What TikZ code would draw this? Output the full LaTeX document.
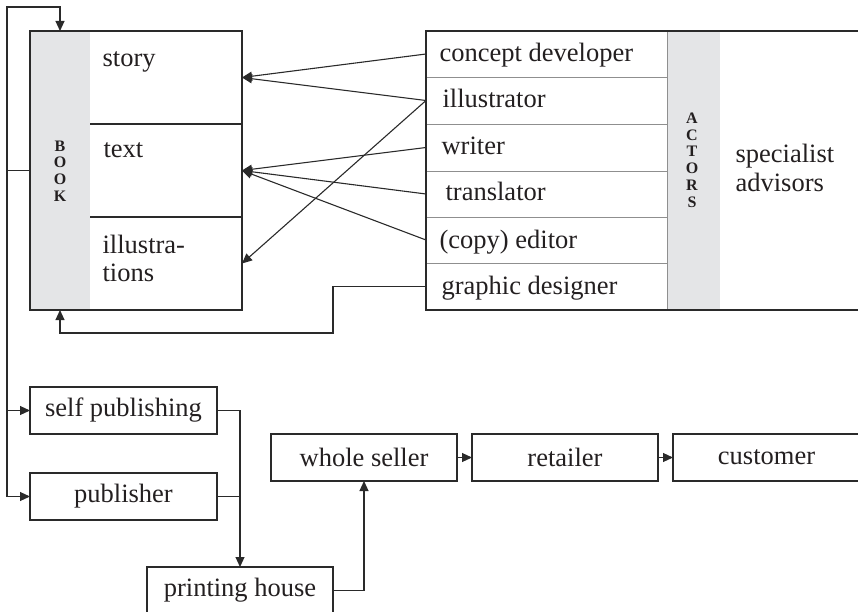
\documentclass[tikz,border=0pt]{standalone}
\usepackage{fontspec}
\setmainfont{Liberation Serif}
\usetikzlibrary{arrows.meta,fit}
\definecolor{inkc}{HTML}{231F20}
\definecolor{linec}{HTML}{2A2A2A}
\definecolor{stripc}{HTML}{E4E5E7}
\definecolor{divc}{HTML}{8F8F8F}
\begin{document}
\begin{tikzpicture}[x=1pt,y=-1pt,
  line width=1.2pt, draw=linec, text=inkc,
  arr/.style={draw=linec, line width=1.1pt, -{Triangle[length=10pt,width=9pt]}},
  area/.style={inner sep=0pt, outer sep=0pt},
  strip/.style={area, fill=stripc},
  outline/.style={area, draw=linec},
  div/.style={draw=divc, line width=0.9pt},
  lbl/.style={inner sep=0pt, anchor=base west, font=\fontsize{26.5}{30}\selectfont},
  box/.style={draw=linec, rectangle, inner sep=0pt, outer sep=0pt,
    minimum height=47pt, font=\fontsize{26.5}{30}\selectfont},
  caps/.style={inner sep=0pt, align=center, font=\bfseries\fontsize{16}{16.8}\selectfont}
]
\useasboundingbox (0,0) rectangle (858,612);
\clip (0,0) rectangle (858,612);

% ---------------- BOOK ----------------
\node[strip, fit={(30,31) (90,310)}] (bookstrip) {};
\node[area, fit={(90,31) (242,124)}] (story) {};
\node[area, fit={(90,124) (242,217)}] (textc) {};
\node[area, fit={(90,217) (242,310)}] (illus) {};
\node[outline, fit={(30,31) (242,310)}] (book) {};
\draw (story.south west) -- (story.south east);
\draw (textc.south west) -- (textc.south east);
\node[caps] (booklbl) at (60,171) {B\\O\\O\\K};
\node[lbl] (storyT) at (102,67) {story};
\node[lbl] (textT) at (103,158) {text};
\node[lbl] (illusT1) at (102,253) {illustra-};
\node[lbl] (illusT2) at (102,281) {tions};

% ---------------- ACTORS ----------------
\node[strip, fit={(667,31) (720,310)}] (actstrip) {};
\node[area, fit={(426,31) (667,77)}] (r1) {};
\node[area, fit={(426,77) (667,124)}] (r2) {};
\node[area, fit={(426,124) (667,171)}] (r3) {};
\node[area, fit={(426,171) (667,217)}] (r4) {};
\node[area, fit={(426,217) (667,263)}] (r5) {};
\node[area, fit={(426,263) (667,310)}] (r6) {};
\draw[div] (r1.south west) -- (r1.south east);
\draw[div] (r2.south west) -- (r2.south east);
\draw[div] (r3.south west) -- (r3.south east);
\draw[div] (r4.south west) -- (r4.south east);
\draw[div] (r5.south west) -- (r5.south east);
\draw[div] (r1.north east) -- (r6.south east);
\node[outline, fit={(426,31) (864,310)}] (actors) {};
\node[caps] (actlbl) at (692,160) {A\\C\\T\\O\\R\\S};
\node[lbl] (t1) at (439,62) {concept developer};
\node[lbl] (t2) at (442,108) {illustrator};
\node[lbl] (t3) at (441,155) {writer};
\node[lbl] (t4) at (445,201) {translator};
\node[lbl] (t5) at (439,248) {(copy) editor};
\node[lbl] (t6) at (441,294) {graphic designer};
\node[lbl] (spec1) at (735,163) {specialist};
\node[lbl] (spec2) at (735,192) {advisors};

% actor -> book arrows
\draw[arr] (r1.west) -- (story.east);
\draw[arr] (r2.west) -- (story.east);
\draw[arr] (r2.west) -- (illus.east);
\draw[arr] (r3.west) -- (textc.east);
\draw[arr] (r4.west) -- (textc.east);
\draw[arr] (r5.west) -- (textc.east);
\coordinate (gdturn) at (333,333);
\draw[arr] (r6.west) -| (gdturn) -| (bookstrip.south);

% ---------------- FLOW ----------------
\node[box, minimum width=187pt] (selfpub) at (123.5,410.5) {self publishing};
\node[box, minimum width=187pt] (publisher) at (123.5,496.5) {publisher};
\node[box, minimum width=186pt] (printing) at (240,590.5) {printing house};
\node[box, minimum width=186pt] (whole) at (364,457.5) {whole seller};
\node[box, minimum width=186pt] (retailer) at (565,457.5) {retailer};
\node[box, minimum width=187pt] (customer) at (766.5,457.5) {customer};

\coordinate (lft) at (7,170.5);
\coordinate (topc) at (7,7);
\draw[arr] (book.west) -- (lft) -- (topc) -| (bookstrip.north);
\draw[arr] (lft) |- (selfpub.west);
\draw[arr] (lft) |- (publisher.west);
\draw[arr] (selfpub.east) -| (printing.north);
\draw[draw=linec, line width=1.1pt] (publisher.east) -- (publisher.east -| printing.north);
\draw[arr] (printing.east) -| (whole.south);
\draw[arr] (whole.east) -- (retailer.west);
\draw[arr] (retailer.east) -- (customer.west);
\end{tikzpicture}
\end{document}
